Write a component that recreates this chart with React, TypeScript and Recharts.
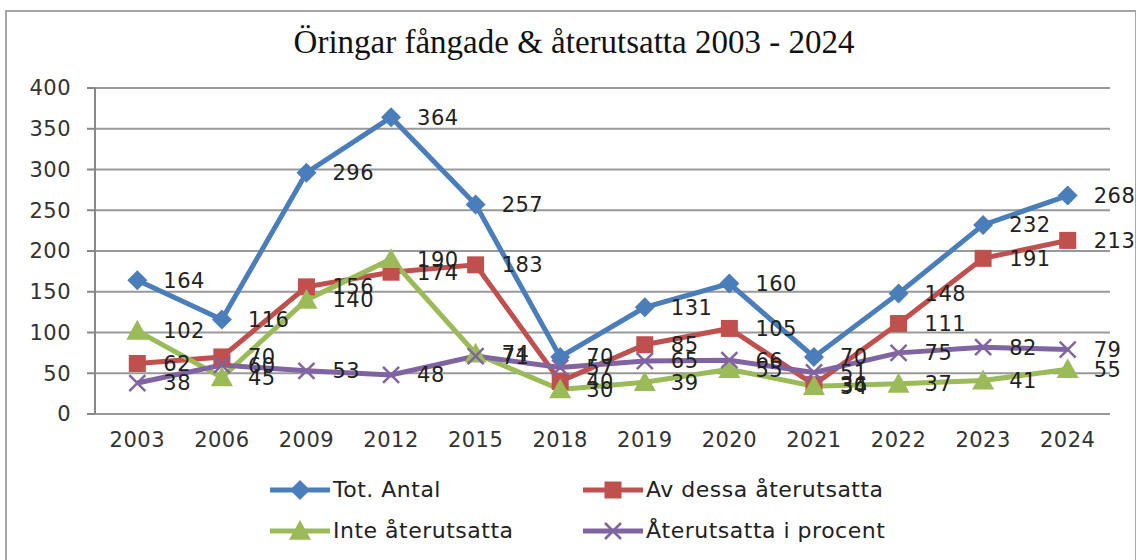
import React from "react";
import { CartesianGrid, LabelList, Line, LineChart, XAxis, YAxis } from "recharts";

// Öringar fångade & återutsatta, 2003–2024
const years = ["2003", "2006", "2009", "2012", "2015", "2018", "2019", "2020", "2021", "2022", "2023", "2024"];
const totAntal = [164, 116, 296, 364, 257, 70, 131, 160, 70, 148, 232, 268];
const avDessa = [62, 70, 156, 174, 183, 40, 85, 105, 36, 111, 191, 213];
const inte = [102, 45, 140, 190, 74, 30, 39, 55, 34, 37, 41, 55];
const procent = [38, 60, 53, 48, 71, 57, 65, 66, 51, 75, 82, 79];
const yTicks = [0, 50, 100, 150, 200, 250, 300, 350, 400];

const COLORS = {
  blue: "#4a7ebb",
  red: "#c0504d",
  green: "#9bbb59",
  purple: "#8064a2",
};

const FONT = "'DejaVu Sans', sans-serif";
const TEXT_STYLE = { fontFamily: FONT, fontSize: 21, letterSpacing: 0.5 };

const data = years.map((y, i) => ({
  i,
  year: y,
  tot: totAntal[i],
  av: avDessa[i],
  inte: inte[i],
  pct: procent[i],
}));

const bandTicks = years.map((_, i) => i - 0.5).concat(years.length - 0.5);

type DotProps = { cx?: number; cy?: number; index?: number };

function Diamond({ cx = 0, cy = 0, fill }: DotProps & { fill: string }) {
  const r = 10;
  return <polygon points={`${cx},${cy - r} ${cx + r},${cy} ${cx},${cy + r} ${cx - r},${cy}`} fill={fill} />;
}

function Square({ cx = 0, cy = 0, fill }: DotProps & { fill: string }) {
  const s = 17;
  return <rect x={cx - s / 2} y={cy - s / 2} width={s} height={s} fill={fill} />;
}

function Triangle({ cx = 0, cy = 0, fill }: DotProps & { fill: string }) {
  const r = 11;
  return <polygon points={`${cx},${cy - r} ${cx + r},${cy + r * 0.8} ${cx - r},${cy + r * 0.8}`} fill={fill} />;
}

function Cross({ cx = 0, cy = 0, fill }: DotProps & { fill: string }) {
  const r = 8;
  return (
    <g stroke={fill} strokeWidth={2.5}>
      <line x1={cx - r} y1={cy - r} x2={cx + r} y2={cy + r} />
      <line x1={cx - r} y1={cy + r} x2={cx + r} y2={cy - r} />
    </g>
  );
}

const SERIES = [
  { key: "tot", name: "Tot. Antal", color: COLORS.blue, Marker: Diamond },
  { key: "av", name: "Av dessa återutsatta", color: COLORS.red, Marker: Square },
  { key: "inte", name: "Inte återutsatta", color: COLORS.green, Marker: Triangle },
  { key: "pct", name: "Återutsatta i procent", color: COLORS.purple, Marker: Cross },
];

function LegendItem({ s }: { s: (typeof SERIES)[number] }) {
  const M = s.Marker;
  return (
    <div style={{ display: "flex", alignItems: "center" }}>
      <svg width={64} height={24}>
        <line x1={2} y1={12} x2={62} y2={12} stroke={s.color} strokeWidth={5} />
        <M cx={32} cy={12} fill={s.color} />
      </svg>
      <span style={{ marginLeft: 1 }}>{s.name}</span>
    </div>
  );
}

export default function App() {
  return (
    <div style={{ position: "absolute", left: 0, top: 0, width: 1136, height: 560, background: "#fff", overflow: "hidden" }}>
      <div
        style={{
          position: "absolute",
          left: 5,
          top: 10,
          width: 1128,
          height: 600,
          border: "2px solid #a6a6a6",
        }}
      />
      <div
        style={{
          position: "absolute",
          left: 0,
          width: 1148,
          top: 24,
          textAlign: "center",
          fontFamily: "'Liberation Serif', serif",
          fontSize: 33,
          color: "#111",
        }}
      >
        Öringar fångade &amp; återutsatta 2003 - 2024
      </div>
      <div style={{ position: "absolute", left: 0, top: 0 }}>
        <LineChart width={1136} height={560} data={data} margin={{ top: 88, right: 26, bottom: 116, left: 35 }}>
          <CartesianGrid vertical={false} stroke="#999" strokeWidth={2} />
          <XAxis
            xAxisId="band"
            type="number"
            dataKey="i"
            domain={[-0.5, years.length - 0.5]}
            ticks={bandTicks}
            tick={false}
            tickSize={8}
            height={0}
            stroke="#888"
            strokeWidth={2}
          />
          <XAxis
            type="number"
            dataKey="i"
            domain={[-0.5, years.length - 0.5]}
            ticks={years.map((_, i) => i)}
            tickFormatter={(v: number) => years[v] ?? ""}
            axisLine={false}
            tickLine={false}
            tickSize={8}
            tickMargin={10}
            height={30}
            tick={{ ...TEXT_STYLE, fill: "#333" }}
            interval={0}
          />
          <YAxis
            domain={[0, 400]}
            ticks={yTicks}
            width={60}
            tickSize={8}
            tickMargin={16}
            stroke="#888"
            strokeWidth={2}
            tick={{ ...TEXT_STYLE, fill: "#333" }}
          />
          {SERIES.map((s) => (
            <Line
              key={s.key}
              dataKey={s.key}
              name={s.name}
              stroke={s.color}
              strokeWidth={5}
              isAnimationActive={false}
              dot={(p: DotProps) => <s.Marker key={`${s.key}-${p.index}`} cx={p.cx} cy={p.cy} fill={s.color} />}
              activeDot={false}
            >
              <LabelList dataKey={s.key} position="right" offset={26} style={{ ...TEXT_STYLE, fill: "#222" }} />
            </Line>
          ))}
        </LineChart>
      </div>
      <div
        style={{
          position: "absolute",
          left: 268,
          top: 477,
          display: "grid",
          gridTemplateColumns: "313px 340px",
          rowGap: 16,
          fontFamily: FONT,
          fontSize: 22,
          letterSpacing: 0.5,
          color: "#222",
        }}
      >
        {SERIES.map((s) => (
          <LegendItem key={s.key} s={s} />
        ))}
      </div>
    </div>
  );
}
